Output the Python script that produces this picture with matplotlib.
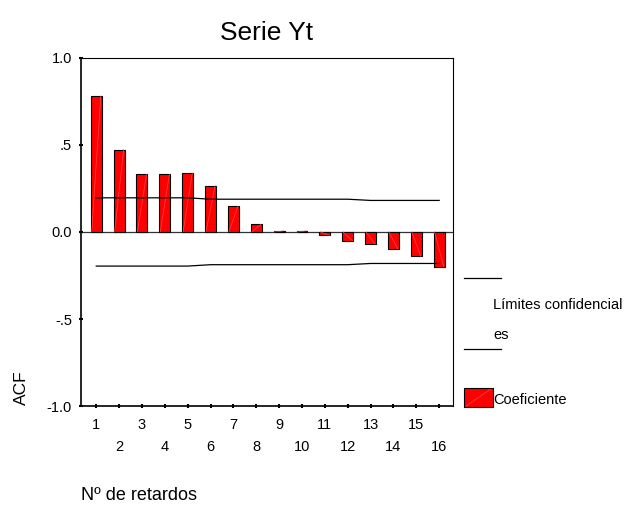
import numpy as np
import matplotlib.pyplot as plt
from matplotlib.lines import Line2D
from matplotlib.patches import Rectangle

plt.rcParams['font.family'] = ['Liberation Sans', 'DejaVu Sans']

lags = np.arange(1, 17)
acf = [0.78, 0.473, 0.33, 0.33, 0.338, 0.265, 0.148, 0.044,
       0.006, 0.006, -0.02, -0.05, -0.07, -0.10, -0.14, -0.20]
upper = [0.196, 0.196, 0.196, 0.196, 0.196, 0.188, 0.188, 0.188,
         0.188, 0.188, 0.188, 0.188, 0.181, 0.181, 0.181, 0.181]
lower = [-u for u in upper]
yticks = [-1.0, -0.5, 0.0, 0.5, 1.0]
ytick_labels = ["-1.0", "-.5", "0.0", ".5", "1.0"]

W, H = 629, 507
BAR_W = 0.48
fig = plt.figure(figsize=(W / 100, H / 100), dpi=100)
ax = fig.add_axes([0.129, 0.199, 0.591, 0.687])

bars = ax.bar(lags, acf, width=BAR_W, color="#ff0000", edgecolor="black", linewidth=0.8, zorder=2)
# faint diagonal stroke inside each bar, like the SPSS fill
for b, v in zip(bars, acf):
    x0 = b.get_x()
    ax.plot([x0 + 0.04, x0 + b.get_width() - 0.04], [0, v],
            color="#ff4848", linewidth=0.5, zorder=2.5)
ax.plot(lags, upper, color="black", linewidth=0.9, zorder=3)
ax.plot(lags, lower, color="black", linewidth=0.9, zorder=3)
ax.axhline(0, color="#333333", linewidth=0.9, zorder=1)

ax.set_xlim(0.34, 16.6)
ax.set_ylim(-1.0, 1.0)
ax.set_yticks(yticks)
ax.set_yticklabels(ytick_labels, fontsize=10.5)
ax.set_xticks(lags)
ax.set_xticklabels(["%d" % l if l % 2 else "\n%d" % l for l in lags], fontsize=10.5,
                   linespacing=1.75)
ax.tick_params(axis="both", direction="inout", length=3, width=1.5, color="black")
ax.tick_params(axis="x", pad=7)
ax.tick_params(axis="y", pad=5)
for s in ["top", "right"]:
    ax.spines[s].set_linewidth(0.8)
for s in ["left", "bottom"]:
    ax.spines[s].set_linewidth(1.2)

ax.set_title("Serie Yt", fontsize=19, pad=13)
fig.text(21 / W, 1 - 387.5 / H, "ACF", rotation=90, fontsize=12.5, ha="center", va="center")
fig.text(81 / W, 1 - 500 / H, "Nº de retardos", fontsize=13, ha="left", va="baseline")

# legend
fig.add_artist(Line2D([464 / W, 501 / W], [1 - 278 / H] * 2, color="black", linewidth=0.9))
fig.text(493 / W, 1 - 309 / H, "Límites confidencial", fontsize=10.5, va="baseline")
fig.text(493 / W, 1 - 339 / H, "es", fontsize=10.5, va="baseline")
fig.add_artist(Line2D([464 / W, 501 / W], [1 - 349 / H] * 2, color="black", linewidth=0.9))
fig.add_artist(Rectangle((464 / W, 1 - 407 / H), 29 / W, 19 / H, facecolor="#ff0000",
                         edgecolor="black", linewidth=0.8))
fig.add_artist(Line2D([466 / W, 491 / W], [1 - 406 / H, 1 - 389 / H], color="#ff4848", linewidth=0.5))
fig.text(493 / W, 1 - 404 / H, "Coeficiente", fontsize=10.5, va="baseline")

fig.savefig("out.png", dpi=100)
